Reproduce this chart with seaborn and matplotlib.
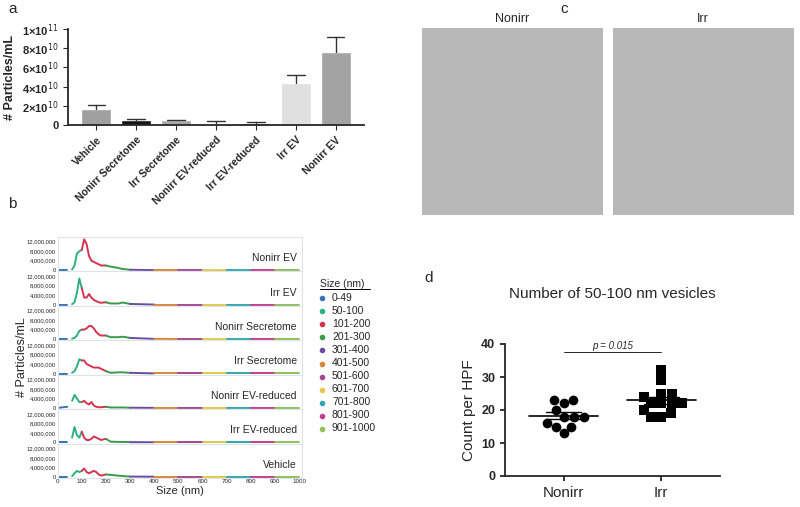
import numpy as np
import pandas as pd
import matplotlib
matplotlib.use('Agg')
import matplotlib.pyplot as plt
import seaborn as sns

sns.set_style('ticks')
plt.rcParams['font.family'] = ['Liberation Sans', 'DejaVu Sans']

# a: particle concentration
groups_a = ['Vehicle', 'Nonirr Secretome', 'Irr Secretome', 'Nonirr EV-reduced',
            'Irr EV-reduced', 'Irr EV', 'Nonirr EV']
conc_a = [1.7e10, 0.55e10, 0.5e10, 0.25e10, 0.25e10, 4.4e10, 7.6e10]
err_a = [0.35e10, 0.05e10, 0.08e10, 0.2e10, 0.07e10, 0.85e10, 1.6e10]
colors_a = ['#a0a0a0', '#151515', '#a8a8a8', '#e2e2e2', '#505050', '#e0e0e0', '#a3a3a3']

# b: size distributions (millions of particles/mL)
sizes_b = [0, 40, 60, 70, 80, 90, 100, 110, 120, 130, 140, 150, 160, 170, 180, 200,
           220, 250, 270, 300, 400, 500, 600, 700, 800, 900, 1000]
dist_b = {
    'Nonirr EV': [0, 0, 0.3, 2, 7, 8, 8.5, 13, 11, 6, 4, 3.5, 3, 2.5, 2, 2, 1.5, 1, 0.5, 0.2, 0.05, 0.05, 0.05, 0.1, 0.05, 0.05, 0.05],
    'Irr EV': [0, 0, 0.2, 1, 5, 11, 7, 3, 3, 4.5, 3, 2, 1.5, 1, 0.8, 1, 0.5, 0.5, 0.9, 0.3, 0.05, 0.05, 0.05, 0.05, 0.05, 0.05, 0.05],
    'Nonirr Secretome': [0, 0, 0.2, 0.5, 1.5, 3.5, 4, 4, 4.5, 5.5, 5.5, 4.5, 3, 2, 1.5, 1.5, 0.8, 0.8, 1, 0.5, 0.1, 0.05, 0.05, 0.05, 0.05, 0.05, 0.05],
    'Irr Secretome': [0, 0, 0.3, 1, 3, 6, 5.5, 5.5, 4, 3.5, 3, 2.5, 2.5, 2.5, 2, 1, 0.3, 0.5, 0.5, 0.3, 0.05, 0.05, 0.05, 0.05, 0.05, 0.05, 0.05],
    'Nonirr EV-reduced': [0, 0.5, 3, 5.5, 4, 2.5, 2.5, 3, 2, 1.5, 2.5, 1, 0.5, 0.3, 0.3, 0.5, 0.2, 0.2, 0.2, 0.1, 0.05, 0.05, 0.05, 0.05, 0.05, 0.05, 0.05],
    'Irr EV-reduced': [0, 0, 2, 6.5, 3, 2, 4.5, 2, 1, 1, 1.5, 2.5, 2, 1.5, 1, 1.5, 0.3, 0.2, 0.2, 0.1, 0.05, 0.05, 0.05, 0.05, 0.05, 0.05, 0.05],
    'Vehicle': [0, 0, 0.3, 1.5, 2.5, 2, 2.5, 3.5, 2, 1.5, 2, 2.5, 2, 1, 0.5, 1, 0.8, 0.5, 0.3, 0.1, 0.05, 0.05, 0.05, 0.05, 0.05, 0.05, 0.05],
}
bins_b = ['0-49', '50-100', '101-200', '201-300', '301-400', '401-500', '501-600',
          '601-700', '701-800', '801-900', '901-1000']
bin_edges = [0, 50, 100, 200, 300, 400, 500, 600, 700, 800, 900, 1000]
bin_colors = ['#3b6fb6', '#2bb07f', '#d6334f', '#3a9a4a', '#6a4c9c', '#d9863a',
              '#a3498f', '#e3c94a', '#2fa7b0', '#c43d8f', '#8fbf5a']

# d: vesicle counts
nonirr_d = [23, 23, 22, 18, 18, 18, 16, 15, 15, 13, 20]
irr_d = [32, 29, 25, 24, 25, 22, 22, 22, 22, 20, 19, 18, 18]

fig = plt.figure(figsize=(8, 5.07), dpi=100)

# ---- panel a
ax = fig.add_axes([0.085, 0.753, 0.37, 0.19])
df_a = pd.DataFrame({'group': groups_a, 'conc': conc_a})
sns.barplot(data=df_a, x='group', y='conc', hue='group', palette=colors_a,
            legend=False, ax=ax, width=0.75)
for i, (v, e) in enumerate(zip(conc_a, err_a)):
    ax.plot([i, i], [v, v + e], color='#333', lw=1)
    ax.plot([i - 0.22, i + 0.22], [v + e, v + e], color='#333', lw=1)
ax.set_ylim(0, 1e11)
ax.set_yticks([0, 2e10, 4e10, 6e10, 8e10, 1e11])
ax.set_yticklabels(['0', r'2×10$^{10}$', r'4×10$^{10}$', r'6×10$^{10}$', r'8×10$^{10}$', r'1×10$^{11}$'],
                   fontsize=8, fontweight='bold')
ax.set_xticks(range(len(groups_a)))
ax.set_xticklabels(groups_a, rotation=45, ha='right', rotation_mode='anchor', fontsize=7.5, fontweight='bold')
ax.set_xlabel('')
ax.set_ylabel('# Particles/mL', fontsize=9, fontweight='bold')
sns.despine(ax=ax)
ax.spines['left'].set_linewidth(1.3)
ax.spines['bottom'].set_linewidth(1.3)
fig.text(0.01, 0.975, 'a', fontsize=11)

# ---- panel b
fig.text(0.01, 0.59, 'b', fontsize=11)
names_b = list(dist_b.keys())
top, bot = 1 - 237 / 507, 1 - 478 / 507
h = (top - bot) / len(names_b)
sz = np.array(sizes_b)
for k, name in enumerate(names_b):
    axb = fig.add_axes([0.072, top - (k + 1) * h, 0.305, h])
    vals = np.array(dist_b[name]) * 1e6
    for j in range(len(bins_b)):
        lo, hi = bin_edges[j], bin_edges[j + 1]
        m = (sz >= lo) & (sz <= hi)
        axb.plot(sz[m], vals[m], color=bin_colors[j], lw=1.4)
    axb.set_xlim(0, 1010)
    axb.set_ylim(-0.5e6, 14e6)
    axb.set_yticks([0, 4e6, 8e6, 12e6])
    axb.set_yticklabels(['0', '4,000,000', '8,000,000', '12,000,000'], fontsize=4.2)
    axb.tick_params(length=0, pad=1)
    axb.text(0.98, 0.3, name, transform=axb.transAxes, ha='right', fontsize=7.5)
    for s in axb.spines.values():
        s.set_color('#dde3ea')
    if k < len(names_b) - 1:
        axb.set_xticks([])
    else:
        axb.set_xticks(range(0, 1001, 100))
        axb.tick_params(axis='x', labelsize=4.5)
        axb.set_xlabel('Size (nm)', fontsize=8, labelpad=1)
fig.text(0.02, (top + bot) / 2, '# Particles/mL', rotation=90, va='center', fontsize=9)
ly0 = 1 - 287 / 507
fig.text(0.4, ly0, 'Size (nm)', fontsize=7.5, ha='left')
fig.lines.append(plt.Line2D([0.4, 0.462], [ly0 - 0.004, ly0 - 0.004], color='k', lw=0.7, transform=fig.transFigure))
for j, (lab, c) in enumerate(zip(bins_b, bin_colors)):
    y = ly0 - 0.027 - j * 0.0258
    fig.lines.append(plt.Line2D([0.402], [y + 0.005], marker='o', ms=3, color=c, transform=fig.transFigure))
    fig.text(0.415, y, lab, fontsize=7.5)

# ---- panel c (micrograph placeholders)
fig.text(0.7, 0.975, 'c', fontsize=11)
for x0, lab in [(422, 'Nonirr'), (613, 'Irr')]:
    axc = fig.add_axes([x0 / 800, 1 - 215 / 507, 181 / 800, 187 / 507])
    axc.set_facecolor('#b8b8b8')
    axc.set_xticks([])
    axc.set_yticks([])
    for s in axc.spines.values():
        s.set_visible(False)
    fig.text((x0 + 90) / 800, 1 - 22 / 507, lab, ha='center', fontsize=9)

# ---- panel d
fig.text(0.53, 1 - 282 / 507, 'd', fontsize=11)
axd = fig.add_axes([505 / 800, 1 - 476 / 507, 215 / 800, 132 / 507])
df_d = pd.DataFrame({'grp': ['Nonirr'] * len(nonirr_d) + ['Irr'] * len(irr_d),
                     'count': nonirr_d + irr_d})
sns.swarmplot(data=df_d[df_d.grp == 'Nonirr'], x='grp', y='count', order=['Nonirr', 'Irr'],
              color='k', size=7, marker='o', ax=axd)
sns.swarmplot(data=df_d[df_d.grp == 'Irr'], x='grp', y='count', order=['Nonirr', 'Irr'],
              color='k', size=7, marker='s', ax=axd)
for i, vals in enumerate([nonirr_d, irr_d]):
    mu = np.mean(vals)
    se = np.std(vals, ddof=1) / np.sqrt(len(vals))
    axd.plot([i - 0.35, i + 0.35], [mu, mu], color='k', lw=1.2)
    axd.plot([i - 0.18, i + 0.18], [mu + se, mu + se], color='k', lw=1)
    axd.plot([i - 0.18, i + 0.18], [mu - se, mu - se], color='k', lw=1)
    axd.plot([i, i], [mu - se, mu + se], color='k', lw=1)
axd.plot([0, 1], [37.5, 37.5], color='k', lw=0.6)
axd.text(0.5, 38.5, 'p = 0.015', ha='center', fontsize=7, style='italic')
axd.set_ylim(0, 40)
axd.set_xlim(-0.6, 1.6)
axd.set_yticks([0, 10, 20, 30, 40])
axd.tick_params(axis='y', labelsize=9, width=1.3)
for t in axd.get_yticklabels():
    t.set_fontweight('bold')
axd.tick_params(axis='x', labelsize=11, width=1.3)
axd.set_xlabel('')
axd.set_ylabel('Count per HPF', fontsize=11)
sns.despine(ax=axd)
axd.spines['left'].set_linewidth(1.3)
axd.spines['bottom'].set_linewidth(1.3)
fig.text(612 / 800, 1 - 298 / 507, 'Number of 50-100 nm vesicles', ha='center', fontsize=11)

fig.savefig('out.png', dpi=100)
